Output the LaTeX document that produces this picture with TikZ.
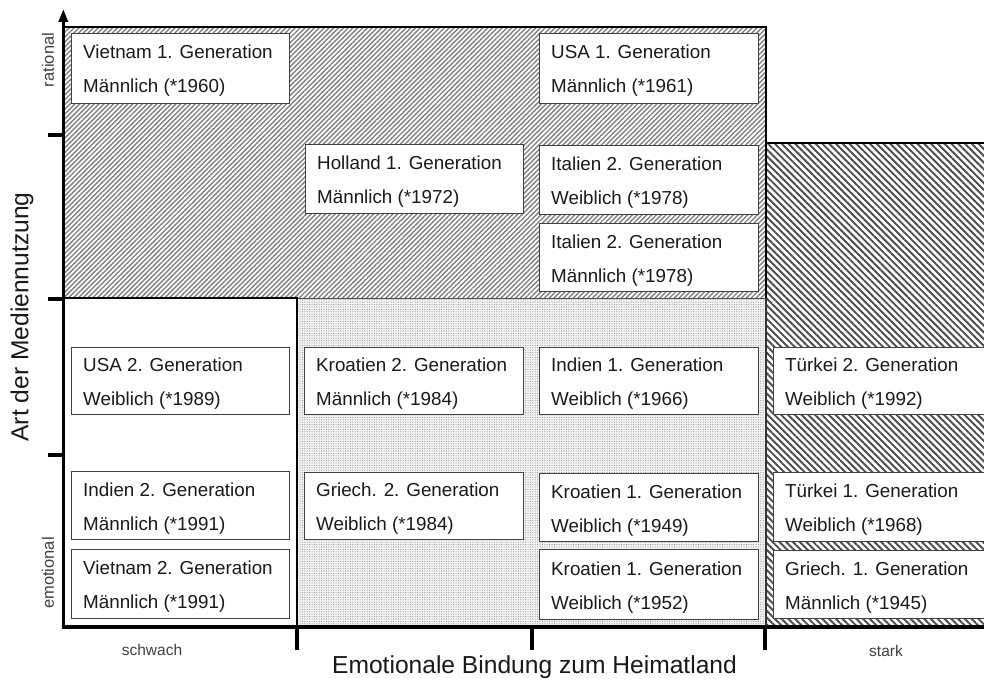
\documentclass[tikz,border=0pt]{standalone}
\usepackage{fontspec}
\setmainfont{Liberation Sans}
\usetikzlibrary{patterns.meta,arrows.meta}
\newcommand{\personbox}[7]{%
  \node[pbox, minimum width={(#4-#2)*1pt}, minimum height={(#5-#3)*1pt}] (#1) at (#2,#3) {};
  \node[boxtext] (#1a) at ({#2+12},{(#3+#5)/2-9}) {#6};
  \node[boxtext] (#1b) at ({#2+12},{(#3+#5)/2+25}) {#7};
}
\begin{document}
\begin{tikzpicture}[x=1pt,y=-1pt,
  boxtext/.style={anchor=base west,inner sep=0pt,font=\fontsize{18.8}{22}\selectfont,text=black!90},
  pbox/.style={draw=black!75,line width=1pt,fill=white,rectangle,inner sep=0pt,anchor=north west},
  smalllabel/.style={font=\fontsize{15.5}{18}\selectfont,text=black!75,inner sep=0pt},
  sidelabel/.style={font=\fontsize{16.5}{18}\selectfont,text=black!75,inner sep=0pt,rotate=90},
  axislabel/.style={font=\fontsize{24.6}{28}\selectfont,text=black!90,inner sep=0pt},
  axisline/.style={line width=3.3pt,black},
  tickline/.style={line width=3.3pt,black},
  hatchup/.style={pattern={Lines[angle=45,distance=3.4pt,line width=1.4pt]},pattern color=black!50},
  hatchdown/.style={pattern={Lines[angle=-45,distance=4.8pt,line width=1.9pt]},pattern color=black!70},
  dotted region/.style={pattern={Dots[distance=2.4pt,radius=0.5pt]},pattern color=black!50},
]
\useasboundingbox (0,0) rectangle (984,679);
\clip (0,0) rectangle (984,679);
\fill[white] (0,0) rectangle (984,679);

% regions
\path[hatchup] (63,27) rectangle (766,298);
\path[hatchdown] (766,143) rectangle (990,626);
\fill[black!5] (297,298) rectangle (766,626);
\path[dotted region] (297,298) rectangle (766,626);

% region borders
\draw[line width=2pt] (63,27) -- (766,27) -- (766,298);
\draw[line width=1.5pt,black!80] (766,298) -- (766,626);
\draw[line width=2pt] (766,143) -- (990,143);
\draw[line width=1pt,black!70] (297,298) -- (766,298);
\draw[line width=2pt] (63,298) -- (297,298) -- (297,626);

% boxes
\personbox{vn1}{71}{33}{289}{103}{Vietnam 1. Generation}{Männlich (*1960)}
\personbox{usa1}{539}{33}{758}{103}{USA 1. Generation}{Männlich (*1961)}
\personbox{hol1}{305}{144}{523}{213}{Holland 1. Generation}{Männlich (*1972)}
\personbox{itaw}{539}{145}{758}{214}{Italien 2. Generation}{Weiblich (*1978)}
\personbox{itam}{539}{223}{758}{291}{Italien 2. Generation}{Männlich (*1978)}
\personbox{usa2}{71}{347}{289}{414}{USA 2. Generation}{Weiblich (*1989)}
\personbox{kro2}{304}{347}{523}{414}{Kroatien 2. Generation}{Männlich (*1984)}
\personbox{ind1}{539}{347}{758}{414}{Indien 1. Generation}{Weiblich (*1966)}
\personbox{tur2}{773}{347}{990}{414}{Türkei 2. Generation}{Weiblich (*1992)}
\personbox{ind2}{71}{471}{289}{539}{Indien 2. Generation}{Männlich (*1991)}
\personbox{gri2}{304}{472}{523}{539}{Griech. 2. Generation}{Weiblich (*1984)}
\personbox{kroa}{539}{473}{758}{541}{Kroatien 1. Generation}{Weiblich (*1949)}
\personbox{tur1}{773}{472}{990}{541}{Türkei 1. Generation}{Weiblich (*1968)}
\personbox{vn2}{71}{549}{289}{618}{Vietnam 2. Generation}{Männlich (*1991)}
\personbox{krob}{539}{549}{758}{619}{Kroatien 1. Generation}{Weiblich (*1952)}
\personbox{gri1}{773}{550}{990}{618}{Griech. 1. Generation}{Männlich (*1945)}

% axes
\coordinate (O) at (63.3,626.5);
\coordinate (ytop) at (63.3,9);
\coordinate (xstart) at (61.5,626.5);
\coordinate (xend) at (990,626.5);
\draw[axisline,-{Triangle[length=13pt,width=9pt]}] (O) -- (ytop);
\draw[line width=4pt] (xstart) -- (xend);
\draw[tickline] (48,135) -- (63,135);
\draw[tickline] (48,299) -- (63,299);
\draw[tickline] (48,455) -- (63,455);
\draw[tickline] (297,626) -- (297,650);
\draw[tickline] (532,626) -- (532,650);
\draw[tickline] (765,626) -- (765,650);

% labels
\node[sidelabel] (rat) at (48,60) {rational};
\node[sidelabel] (emo) at (48,573) {emotional};
\node[smalllabel,anchor=base] (schwach) at (152,655) {schwach};
\node[smalllabel,anchor=base] (stark) at (886,656) {stark};
\node[axislabel,rotate=90] (ylab) at (22,317) {Art der Mediennutzung};
\node[axislabel,anchor=base] (xlab) at (534.5,673) {Emotionale Bindung zum Heimatland};
\end{tikzpicture}
\end{document}
